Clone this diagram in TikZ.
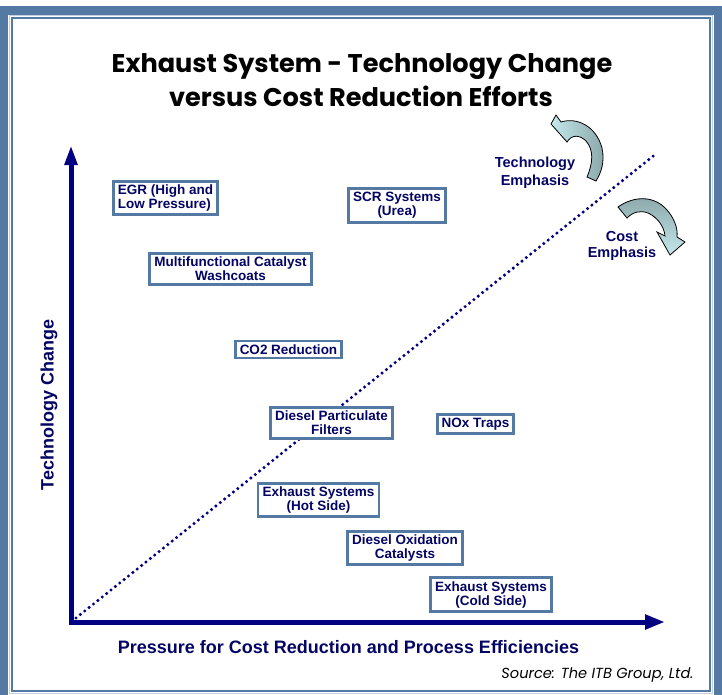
\documentclass[tikz,border=0pt]{standalone}
\usepackage{fontspec}
\setmainfont{Liberation Sans}
\newfontfamily\futura{Poppins}
\usetikzlibrary{arrows.meta}
\definecolor{frameblue}{RGB}{84,122,164}
\definecolor{ink}{RGB}{4,4,100}
\definecolor{axisblue}{RGB}{0,0,128}
\definecolor{arrowlight}{RGB}{196,232,236}
\definecolor{arrowdark}{RGB}{138,166,168}
\begin{document}
\begin{tikzpicture}[x=1pt,y=-1pt,
  techbox/.style={draw=frameblue,line width=2.8pt,fill=white,text=ink,
    font=\fontsize{13.5}{14}\selectfont\bfseries,align=center,
    inner xsep=4.6pt,inner ysep=3.5pt},
  axislabel/.style={text=ink,font=\fontsize{18}{20}\selectfont\bfseries},
  emphlabel/.style={text=ink,font=\fontsize{14.5}{18}\selectfont\bfseries,align=center},
  titleline/.style={anchor=base,font=\futura\fontsize{25.6}{30}\selectfont\bfseries},
  turnarrow/.style={draw=black,line width=0.8pt}]
\useasboundingbox (0,0) rectangle (722,694);
\clip (0,0) rectangle (722,694);
% frame
\draw[frameblue,line width=9pt] (3.5,10) rectangle (718,704);
\draw[frameblue!35,line width=1pt] (9.5,15.5) rectangle (712.5,693.5);
\draw[frameblue,line width=1.6pt] (11.8,17.8) rectangle (710.2,691);
% title
\node[titleline] (title1) at (362,72) {Exhaust System - Technology Change};
\node[titleline] (title2) at (361,106) {versus Cost Reduction Efforts};
% axes
\coordinate (origin) at (71,622);
\coordinate (ytip) at (71,145);
\coordinate (xtip) at (665,622);
\draw[axisblue,line width=5pt,
  {Triangle[width=12pt,length=20pt]}-{Triangle[width=14pt,length=20pt]}]
  (ytip) -- (origin) -- (xtip);
\node[axislabel,rotate=90] (ylabel) at (49,405) {Technology Change};
\node[axislabel,anchor=base] (xlabel) at (348.5,653)
  {Pressure for Cost Reduction and Process Efficiencies};
% dividing line
\coordinate (dotstart) at (76,618);
\coordinate (dotend) at (657,153);
\draw[axisblue,line width=3.4pt,line cap=round,dash pattern=on 0pt off 5.6pt]
  (dotstart) -- (dotend);
% technologies
\node[techbox,align=left] (egr) at (165.5,198) {EGR (High and\\Low Pressure)};
\node[techbox] (scr) at (397,205.5) {SCR Systems\\(Urea)};
\node[techbox] (mfc) at (230.5,269) {Multifunctional Catalyst\\Washcoats};
\node[techbox] (co2) at (288.5,349.5) {CO2 Reduction};
\node[techbox] (dpf) at (331.5,423) {Diesel Particulate\\Filters};
\node[techbox] (nox) at (475.5,424) {NOx Traps};
\node[techbox] (hot) at (318.5,500) {Exhaust Systems\\(Hot Side)};
\node[techbox] (doc) at (405,548) {Diesel Oxidation\\Catalysts};
\node[techbox] (cold) at (491,594.5) {Exhaust Systems\\(Cold Side)};
% emphasis arrows
\node[emphlabel] (techemph) at (535,173) {Technology\\Emphasis};
\node[emphlabel,font=\fontsize{14.5}{16}\selectfont\bfseries] (costemph) at (622,246) {Cost\\Emphasis};
\draw[turnarrow,left color=arrowlight,right color=arrowdark]
  (551,124) -- (556,115) -- (561,122)
  .. controls (577,117) and (596,126) .. (602,148)
  .. controls (605,162) and (601,173) .. (596,181) -- (587,177)
  .. controls (593,163) and (594,150) .. (586,141)
  .. controls (580,135) and (572,134) .. (567,142) -- cycle;
\draw[turnarrow,top color=arrowdark,bottom color=arrowlight]
  (618,207) .. controls (635,195) and (655,196) .. (667,210)
  .. controls (674,218) and (678,228) .. (677,237) -- (685,242) -- (670,255)
  -- (657,232) -- (665,236)
  .. controls (664,226) and (657,217) .. (648,213)
  .. controls (640,210) and (633,212) .. (627,218) -- cycle;
% source
\node[anchor=base east,font=\futura\itshape\fontsize{14.6}{18}\selectfont] (source)
  at (697,678) {Source: The ITB Group, Ltd.};
\end{tikzpicture}
\end{document}
